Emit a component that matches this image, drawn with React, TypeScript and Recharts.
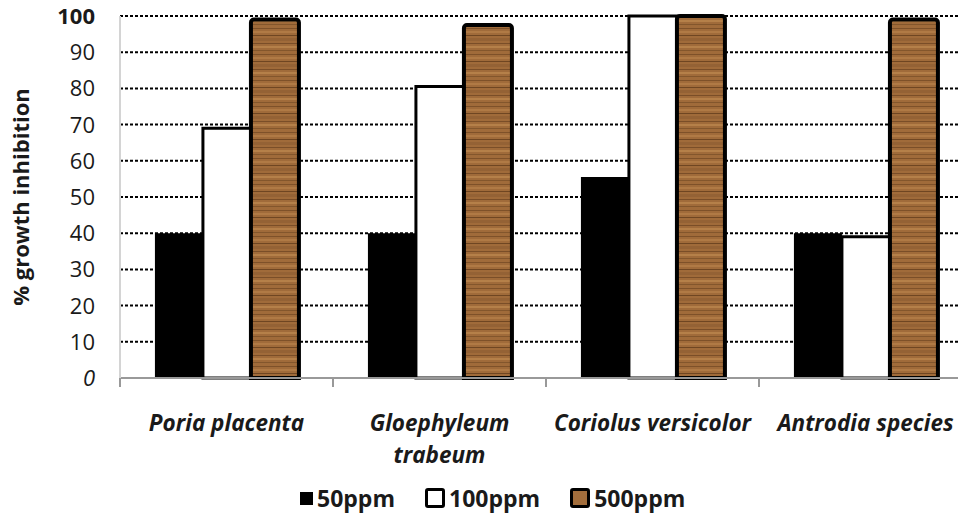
import React from "react";
import { BarChart, Bar, XAxis, YAxis, CartesianGrid } from "recharts";

const categories = ["Poria placenta", "Gloephyleum trabeum", "Coriolus versicolor", "Antrodia species"];
const ppm50 = [40, 40, 55.5, 40];
const ppm100 = [69, 80.5, 100, 39];
const ppm500 = [99, 97.5, 100, 99];
const seriesNames = ["50ppm", "100ppm", "500ppm"];
const yTicks = [0, 10, 20, 30, 40, 50, 60, 70, 80, 90, 100];
const boundaryTicks = [0, 1, 2, 3, 4];

const data = categories.map((name, i) => ({
  name,
  pos: i + 0.5,
  s50: ppm50[i],
  s100: ppm100[i],
  s500: ppm500[i],
}));

const FONT = "'Open Sans', sans-serif";
const XFONT = "italic 700 22.5px 'Open Sans'";

let measureCtx: CanvasRenderingContext2D | null = null;
const measure = (s: string) => {
  if (!measureCtx) {
    const c = document.createElement("canvas");
    measureCtx = c.getContext("2d");
  }
  if (!measureCtx) return s.length * 11;
  measureCtx.font = XFONT;
  return measureCtx.measureText(s).width;
};

const wrapWords = (s: string, maxW: number) => {
  const words = s.split(" ");
  const lines: string[] = [];
  let cur = "";
  words.forEach((w) => {
    const t = cur ? cur + " " + w : w;
    if (cur && measure(t) > maxW) {
      lines.push(cur);
      cur = w;
    } else {
      cur = t;
    }
  });
  if (cur) lines.push(cur);
  return lines;
};

const YTick = (props: any) => {
  const { x, y, payload } = props;
  const v = payload.value;
  return (
    <text
      x={x}
      y={y}
      dy={8}
      textAnchor="end"
      fontFamily={FONT}
      fontSize={22}
      fontWeight={v === 100 ? 700 : 400}
      fontStyle={v === 0 ? "italic" : "normal"}
      fill="#1a1a1a"
    >
      {v}
    </text>
  );
};

const XTick = (props: any) => {
  const { x, y, payload } = props;
  const lines = wrapWords(String(payload.value), 210);
  return (
    <text
      x={x}
      y={y}
      textAnchor="middle"
      fontFamily={FONT}
      fontSize={22.5}
      fontWeight={700}
      fontStyle="italic"
      fill="#1a1a1a"
    >
      {lines.map((l, i) => (
        <tspan key={i} x={x} dy={i === 0 ? 16 : 32}>
          {l}
        </tspan>
      ))}
    </text>
  );
};

const legendBox = (fill: string, border: boolean) => (
  <span
    style={{
      display: "inline-block",
      width: border ? 14 : 13,
      height: border ? 14 : 13,
      background: fill,
      border: border ? "3px solid #000" : "none",
      borderRadius: border ? 3 : 0,
      marginRight: 4,
      verticalAlign: "middle",
    }}
  />
);

export default function App() {
  const legendFills = ["#000", "#fff", "#a36e3c"];
  return (
    <div style={{ position: "absolute", left: 0, top: 0, width: 958, height: 517, overflow: "hidden", background: "#fff" }}>
      <BarChart
        width={976}
        height={517}
        data={data}
        margin={{ top: 16, right: 4, left: 0, bottom: 137 }}
        barCategoryGap="16.4%"
        barGap={0}
      >
        <defs>
          <pattern id="wood" width="10" height="26" patternUnits="userSpaceOnUse">
            <rect width="10" height="26" fill="#a06b3a" />
            <rect y="2" width="10" height="1" fill="#7e5129" />
            <rect y="5" width="10" height="2" fill="#b07a45" />
            <rect y="9" width="10" height="1" fill="#6f4622" />
            <rect y="12" width="10" height="3" fill="#946235" />
            <rect y="17" width="10" height="1" fill="#7a4e28" />
            <rect y="20" width="10" height="2" fill="#b58049" />
            <rect y="24" width="10" height="1" fill="#83562c" />
          </pattern>
        </defs>
        <CartesianGrid
          xAxisId="cat"
          vertical={false}
          horizontalValues={yTicks.slice(1)}
          stroke="#000"
          strokeWidth={2}
          strokeDasharray="3 2"
        />
        <XAxis
          xAxisId="bnd"
          dataKey="pos"
          type="number"
          domain={[0, 4]}
          ticks={boundaryTicks}
          allowDataOverflow
          height={1}
          tick={() => <g />}
          tickSize={9}
          axisLine={{ stroke: "#999", strokeWidth: 2 }}
          tickLine={{ stroke: "#999", strokeWidth: 2 }}
        />
        <XAxis
          xAxisId="cat"
          dataKey="name"
          height={1}
          axisLine={false}
          tickLine={false}
          tickSize={0}
          tickMargin={36}
          interval={0}
          tick={<XTick />}
        />
        <YAxis
          width={120}
          domain={[0, 100]}
          ticks={yTicks}
          interval={0}
          axisLine={{ stroke: "#d4d4d4", strokeWidth: 2 }}
          tickLine={false}
          tickSize={0}
          tickMargin={25}
          tick={<YTick />}
          label={{
            value: "% growth inhibition",
            angle: -90,
            position: "insideLeft",
            dx: 16,
            dy: 0,
            style: { fontFamily: FONT, fontSize: 22, fontWeight: 700, fill: "#1a1a1a", textAnchor: "middle" },
          }}
        />
        <Bar xAxisId="cat" dataKey="s50" name={seriesNames[0]} fill="#000" isAnimationActive={false} />
        <Bar xAxisId="cat" dataKey="s100" name={seriesNames[1]} fill="#fff" stroke="#000" strokeWidth={3} isAnimationActive={false} />
        <Bar
          xAxisId="cat"
          dataKey="s500"
          name={seriesNames[2]}
          fill="url(#wood)"
          stroke="#000"
          strokeWidth={4}
          radius={[3, 3, 0, 0]}
          isAnimationActive={false}
        />
      </BarChart>
      <div
        style={{
          position: "absolute",
          left: 300,
          top: 482,
          display: "flex",
          alignItems: "center",
          fontFamily: FONT,
          fontSize: 23,
          fontWeight: 700,
          color: "#1a1a1a",
          whiteSpace: "nowrap",
        }}
      >
        {seriesNames.map((n, i) => (
          <span key={n} style={{ display: "inline-flex", alignItems: "center", marginRight: 30 }}>
            {legendBox(legendFills[i], i > 0)}
            {n}
          </span>
        ))}
      </div>
    </div>
  );
}
